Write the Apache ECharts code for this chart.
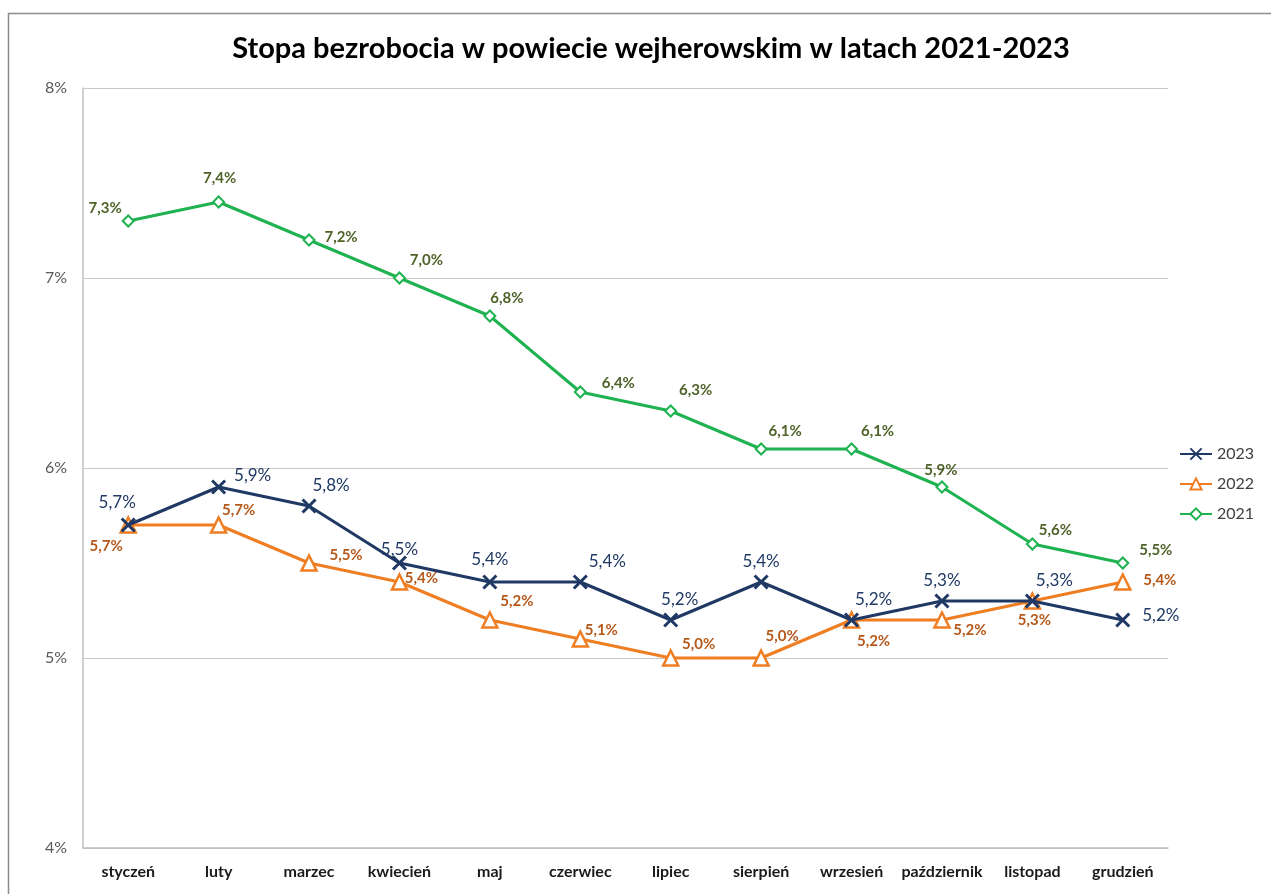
<!DOCTYPE html>
<html>
<head>
<meta charset="utf-8">
<script src="https://cdn.jsdelivr.net/npm/echarts@6/dist/echarts.min.js"></script>
<style>
  html, body { margin: 0; padding: 0; background: #fff; }
  #main { width: 1271px; height: 894px; }
</style>
</head>
<body>
<div id="main"></div>
<script>
const months = ["styczeń", "luty", "marzec", "kwiecień", "maj", "czerwiec", "lipiec", "sierpień", "wrzesień", "październik", "listopad", "grudzień"];
const rate2023 = [5.7, 5.9, 5.8, 5.5, 5.4, 5.4, 5.2, 5.4, 5.2, 5.3, 5.3, 5.2];
const rate2022 = [5.7, 5.7, 5.5, 5.4, 5.2, 5.1, 5.0, 5.0, 5.2, 5.2, 5.3, 5.4];
const rate2021 = [7.3, 7.4, 7.2, 7.0, 6.8, 6.4, 6.3, 6.1, 6.1, 5.9, 5.6, 5.5];

// label offsets (px from the marker), hand placed like in the original
const off2023 = [[-11,-22],[34,-11],[22,-20],[0,-13],[0,-22],[27,-20],[9,-20],[0,-20],[22,-20],[0,-20],[22,-20],[38,-4]];
const off2022 = [[-22,21],[20,-15],[37,-8],[22,-4],[27,-19],[21,-9],[28,-14],[21,-22],[22,21],[28,10],[2,19],[37,-2]];
const off2021 = [[-23,-13],[1,-24],[32,-3],[27,-18],[17,-18],[38,-9],[25,-21],[24,-18],[26,-18],[-1,-17],[23,-14],[33,-13]];

const FONT = "Lato, 'Open Sans', sans-serif";
const fmt = (v) => v.toFixed(1).replace(".", ",") + "%";

function withLabels(values, offsets) {
  return values.map((v, i) => ({
    value: v,
    label: { offset: offsets[i] },
  }));
}

var myChart = echarts.init(document.getElementById("main"));
const option = {
  backgroundColor: "#fff",
  animation: false,
  title: {
    text: "Stopa bezrobocia w powiecie wejherowskim w latach 2021-2023",
    left: 646,
    textAlign: "center",
    top: 29,
    textStyle: { fontFamily: FONT, fontSize: 29, fontWeight: "bold", color: "#000" },
  },
  graphic: [
    {
      type: "rect",
      shape: { x: 8.5, y: 13.5, width: 1300, height: 950 },
      style: { fill: "none", stroke: "#8c8c8c", lineWidth: 1.5 },
      silent: true,
    },
  ],
  legend: {
    orient: "vertical",
    left: 1174,
    top: 441,
    itemGap: 14,
    itemWidth: 32,
    itemHeight: 14,
    textStyle: { fontFamily: FONT, fontSize: 16, color: "#404040" },
    data: ["2023", "2022", "2021"],
  },
  grid: { left: 83, right: 103, top: 88, bottom: 46 },
  xAxis: {
    type: "category",
    data: months,
    boundaryGap: true,
    axisLine: { lineStyle: { color: "#bfbfbf", width: 1.5 } },
    axisTick: { show: false },
    axisLabel: { interval: 0, fontFamily: FONT, fontSize: 16, fontWeight: "bold", color: "#1a1a1a", margin: 16 },
  },
  yAxis: {
    type: "value",
    min: 4,
    max: 8,
    interval: 1,
    axisLine: { show: true, lineStyle: { color: "#bfbfbf", width: 1.5 } },
    axisTick: { show: false },
    splitLine: { lineStyle: { color: "#c8c8c8", width: 1.2 } },
    axisLabel: { fontFamily: FONT, fontSize: 16, color: "#595959", margin: 16, formatter: (v) => v + "%" },
  },
  series: [
    {
      name: "2023",
      type: "line",
      data: withLabels(rate2023, off2023),
      symbol: "path://M0,0 L10,10 M10,0 L0,10",
      symbolSize: 13,
      showAllSymbol: true,
      z: 4,
      lineStyle: { color: "#1f3864", width: 3 },
      itemStyle: { color: "#1f3864", borderColor: "#1f3864", borderWidth: 3 },
      label: {
        show: true,
        position: "inside",
        color: "#1f3864",
        fontFamily: FONT,
        fontSize: 17,
        formatter: (p) => fmt(p.value),
      },
    },
    {
      name: "2022",
      type: "line",
      data: withLabels(rate2022, off2022),
      symbol: "triangle",
      symbolSize: 15,
      showAllSymbol: true,
      z: 3,
      lineStyle: { color: "#ef7d22", width: 3 },
      itemStyle: { color: "#fff", borderColor: "#ef7d22", borderWidth: 2.5 },
      label: {
        show: true,
        position: "inside",
        color: "#b5591b",
        fontFamily: FONT,
        fontSize: 15,
        fontWeight: "bold",
        formatter: (p) => fmt(p.value),
      },
    },
    {
      name: "2021",
      type: "line",
      data: withLabels(rate2021, off2021),
      symbol: "diamond",
      symbolSize: 11,
      showAllSymbol: true,
      z: 2,
      lineStyle: { color: "#1fb250", width: 3 },
      itemStyle: { color: "#fff", borderColor: "#1fb250", borderWidth: 2 },
      label: {
        show: true,
        position: "inside",
        color: "#4f6228",
        fontFamily: FONT,
        fontSize: 15,
        fontWeight: "bold",
        formatter: (p) => fmt(p.value),
      },
    },
  ],
};
myChart.setOption(option);
</script>
</body>
</html>
